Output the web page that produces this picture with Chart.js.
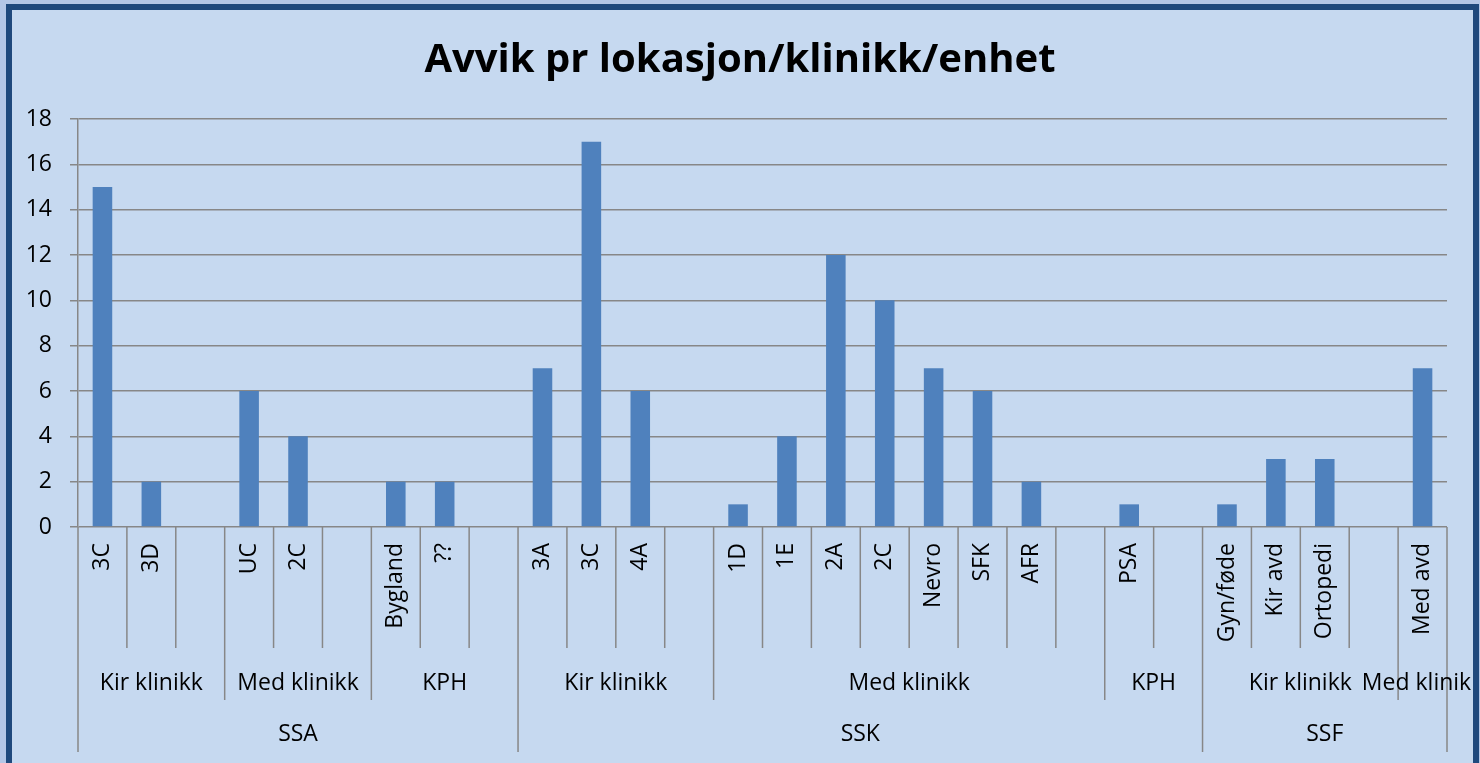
<!DOCTYPE html>
<html>
<head>
<meta charset="utf-8">
<script src="https://cdn.jsdelivr.net/npm/chart.js@4.4.0/dist/chart.umd.min.js"></script>
<style>
html,body{margin:0;padding:0;background:#b4c7e7;overflow:hidden;}
#frame{position:absolute;left:6px;top:4px;width:1461px;height:800px;border:6px solid #1f497d;background:#c6d9f0;}
#avvikChart{position:absolute;left:0;top:0;}
</style>
</head>
<body>
<div id="frame"></div>
<canvas id="avvikChart" width="1480" height="763"></canvas>
<script>

// Avvik per enhet, gruppert på klinikk og lokasjon

const chartTitle='Avvik pr lokasjon/klinikk/enhet';

const units=['3C','3D','','UC','2C','','Bygland','??','','3A','3C','4A','','1D','1E','2A','2C','Nevro','SFK','AFR','','PSA','','Gyn/føde','Kir avd','Ortopedi','','Med avd'];
const avvik=[15,2,null,6,4,null,2,2,null,7,17,6,null,1,4,12,10,7,6,2,null,1,null,1,3,3,null,7];

const clinics=['Kir klinikk','Med klinikk','KPH','Kir klinikk','Med klinikk','KPH','Kir klinikk','Med klinikk'];
const clinicSpan=[3,3,3,4,8,2,4,1];

const locations=['SSA','SSK','SSF'];
const locationSpan=[9,14,5];

const yMax=18;
const yStep=2;

const gridColor='#878787';

Chart.defaults.font.family='"Open Sans", sans-serif';
Chart.defaults.font.size=23;
Chart.defaults.color='#000';


// title centred on the whole picture, not on the plot

const pageTitle={
id:'pageTitle',
afterDraw(chart){
const ctx=chart.ctx;
ctx.save();
ctx.fillStyle='#000';
ctx.font='bold 40px "Open Sans"';
ctx.textAlign='center';
ctx.textBaseline='alphabetic';
ctx.fillText(chartTitle,chart.width/2,72);
ctx.restore();
}
};


// draws the grouped category levels under the x axis

const groupAxis={
id:'groupAxis',
afterDraw(chart){

const {ctx,chartArea:a,scales:{x}}=chart;
const n=units.length;
const w=x.getPixelForValue(1)-x.getPixelForValue(0);
const edge=i=>x.getPixelForValue(0)-w/2+i*w;

const depth=new Array(n+1).fill(a.bottom+121);
let k=0;
clinicSpan.forEach(s=>{depth[k]=a.bottom+173;k+=s;});
depth[n]=a.bottom+173;
k=0;
locationSpan.forEach(s=>{depth[k]=a.bottom+225;k+=s;});
depth[n]=a.bottom+225;

ctx.save();
ctx.beginPath();
ctx.rect(12,10,1461,753);
ctx.clip();

ctx.strokeStyle=gridColor;
ctx.lineWidth=1.5;
for(let i=0;i<=n;i++){
ctx.beginPath();
ctx.moveTo(edge(i),a.bottom);
ctx.lineTo(edge(i),depth[i]);
ctx.stroke();
}

ctx.fillStyle='#000';
ctx.font='23px "Open Sans"';
ctx.textAlign='center';
ctx.textBaseline='middle';

k=0;
clinics.forEach((c,j)=>{
ctx.fillText(c,(edge(k)+edge(k+clinicSpan[j]))/2,a.bottom+156);
k+=clinicSpan[j];
});

k=0;
locations.forEach((l,j)=>{
ctx.fillText(l,(edge(k)+edge(k+locationSpan[j]))/2,a.bottom+207);
k+=locationSpan[j];
});

ctx.restore();

}
};


new Chart(document.getElementById('avvikChart'),{

type:'bar',

data:{
labels:units,
datasets:[{
label:'Avvik',
data:avvik,
backgroundColor:'#4f81bd',
barPercentage:0.4,
categoryPercentage:1
}]
},

options:{
responsive:false,
animation:false,
layout:{padding:{left:0,right:33,top:119,bottom:0}},
plugins:{
legend:{display:false},
tooltip:{enabled:false},
title:{display:false}
},
scales:{
x:{
grid:{display:false,drawTicks:false},
border:{display:false},
ticks:{autoSkip:false,minRotation:90,maxRotation:90,padding:16},
afterFit(scale){scale.height=236;}
},
y:{
min:0,
max:yMax,
grid:{color:gridColor,lineWidth:1.5,tickLength:8},
border:{color:gridColor,width:1.5},
ticks:{stepSize:yStep,padding:18},
afterFit(scale){scale.width=78;}
}
}
},

plugins:[groupAxis,pageTitle]

});

</script>
</body>
</html>
